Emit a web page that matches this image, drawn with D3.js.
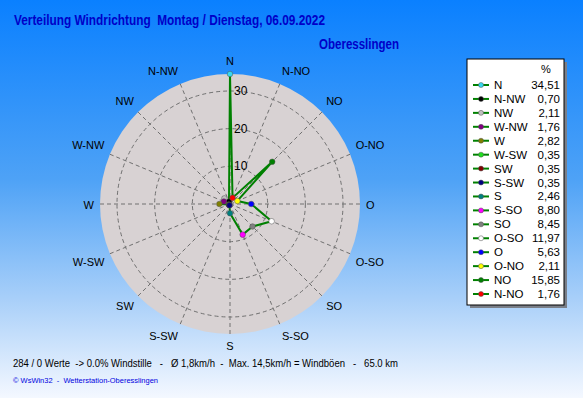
<!DOCTYPE html>
<html><head><meta charset="utf-8">
<script src="https://cdn.jsdelivr.net/npm/d3@7"></script>
<style>body{margin:0;padding:0;overflow:hidden}svg{display:block}text{font-family:"Liberation Sans",Arial,sans-serif;white-space:pre}</style>
</head><body><div id="chart"></div>
<script>
// ---- data (legend order, counter-clockwise from N) ----
const directions = ["N","N-NW","NW","W-NW","W","W-SW","SW","S-SW","S","S-SO","SO","O-SO","O","O-NO","NO","N-NO"];
const percents   = [34.51,0.70,2.11,1.76,2.82,0.35,0.35,0.35,2.46,8.80,8.45,11.97,5.63,2.11,15.85,1.76];
const markerColors = ["#38d8f0","#000000","#c0c0c0","#800080","#808000","#20e020","#800000","#000080","#008080","#ff00ff","#808080","#ffffff","#0000ff","#ffff00","#008000","#ff0000"];
const radialTicks = [10,20,30];
const title = "Verteilung Windrichtung  Montag / Dienstag, 06.09.2022";
const subtitle = "Oberesslingen";
const footer = "284 / 0 Werte  -> 0.0% Windstille   -   Ø 1,8km/h  -  Max. 14,5km/h = Windböen   -   65.0 km";
const credit = "© WsWin32  -  Wetterstation-Oberesslingen";

const W = 583, H = 398;
const svg = d3.select("#chart").append("svg").attr("width", W).attr("height", H);
const defs = svg.append("defs");
const bg = defs.append("linearGradient").attr("id","bg").attr("x1",0).attr("y1",0).attr("x2",0).attr("y2",1);
[[0,"#0a80ff"],[0.45,"#4ea2f6"],[0.75,"#a8cff9"],[1,"#f4f8ff"]].forEach(s=>bg.append("stop").attr("offset",s[0]).attr("stop-color",s[1]));
svg.append("rect").attr("width",W).attr("height",H).attr("fill","url(#bg)");

// titles
svg.append("text").attr("x",14).attr("y",25).attr("font-size",14).attr("font-weight","bold").attr("fill","#0000c8")
  .attr("textLength",311).attr("lengthAdjust","spacingAndGlyphs").text(title);
svg.append("text").attr("x",319).attr("y",49).attr("font-size",14).attr("font-weight","bold").attr("fill","#0000c8")
  .attr("textLength",80).attr("lengthAdjust","spacingAndGlyphs").text(subtitle);

// polar
const cx = 230, cy = 204, R = 130;
const r = d3.scaleLinear().domain([0, d3.max(percents)]).range([0, R]);
const ang = d3.scaleLinear().domain([0, directions.length]).range([0, -2*Math.PI]); // legend order is CCW
const g = svg.append("g").attr("transform",`translate(${cx},${cy})`);
g.append("circle").attr("r",R).attr("fill","#d8d2d3");
radialTicks.forEach(t=>g.append("circle").attr("r",r(t)).attr("fill","none").attr("stroke","#707070").attr("stroke-dasharray","4,3"));
directions.forEach((d,i)=>{
  const a = ang(i);
  g.append("line").attr("x1",0).attr("y1",0).attr("x2",R*Math.sin(a)).attr("y2",-R*Math.cos(a))
    .attr("stroke","#707070").attr("stroke-dasharray","4,3");
});
// direction labels
const rl = R + 6;
directions.forEach((d,i)=>{
  const a = ang(i), s = Math.sin(a), c = Math.cos(a);
  const px = rl*s, py = -rl*c;
  const anchor = s > 0.1 ? "start" : (s < -0.1 ? "end" : "middle");
  const base = c > 0.1 ? "text-after-edge" : (c < -0.1 ? "text-before-edge" : "central");
  let dy = c > 0.1 ? -1 : (c < -0.1 ? 0 : 1);
  g.append("text").attr("x",px).attr("y",py+dy).attr("text-anchor",anchor).attr("dominant-baseline",base)
    .attr("font-size",11).attr("fill","#000").text(d);
});
// tick labels
radialTicks.forEach(t=>g.append("text").attr("x",4).attr("y",-r(t)).attr("dominant-baseline","central")
  .attr("font-size",12).attr("fill","#000").text(t));

// series line
const pts = percents.map((v,i)=>[ang(i), r(v)]);
g.append("path").datum(pts).attr("d", d3.lineRadial().curve(d3.curveLinearClosed))
  .attr("fill","none").attr("stroke","#008000").attr("stroke-width",2).attr("stroke-linejoin","round");
g.selectAll(".pt").data(pts).join("circle").attr("class","pt")
  .attr("cx",d=>d[1]*Math.sin(d[0])).attr("cy",d=>-d[1]*Math.cos(d[0])).attr("r",2.8)
  .attr("fill",(d,i)=>markerColors[i]).attr("stroke","#505050").attr("stroke-width",0.5);

// legend
const lx = 467, ly = 59, lw = 97, lh = 246;
svg.append("rect").attr("x",lx+3).attr("y",ly+3).attr("width",lw).attr("height",lh).attr("fill","#7a7f88");
svg.append("rect").attr("x",lx).attr("y",ly).attr("width",lw).attr("height",lh).attr("fill","#fff").attr("stroke","#000");
svg.append("text").attr("x",546).attr("y",69).attr("text-anchor","middle").attr("dominant-baseline","central").attr("font-size",11).text("%");
const rowY = d3.scaleLinear().domain([0,15]).range([85,294]);
directions.forEach((d,i)=>{
  const y = rowY(i);
  svg.append("line").attr("x1",473).attr("x2",489).attr("y1",y).attr("y2",y).attr("stroke","#008000").attr("stroke-width",2);
  svg.append("circle").attr("cx",481).attr("cy",y).attr("r",2.5).attr("fill",markerColors[i]).attr("stroke","#505050").attr("stroke-width",0.5);
  svg.append("text").attr("x",494).attr("y",y).attr("dominant-baseline","central").attr("font-size",11.5).text(d);
  svg.append("text").attr("x",560).attr("y",y).attr("text-anchor","end").attr("dominant-baseline","central").attr("font-size",11.5)
    .text(d3.format(".2f")(percents[i]).replace(".",","));
});

// footer
svg.append("text").attr("x",13).attr("y",363).attr("dominant-baseline","central").attr("font-size",11)
  .attr("textLength",385).attr("lengthAdjust","spacingAndGlyphs").text(footer);
svg.append("text").attr("x",13).attr("y",380).attr("dominant-baseline","central").attr("font-size",8).attr("fill","#0000e0")
  .attr("textLength",145).attr("lengthAdjust","spacingAndGlyphs").text(credit);
</script></body></html>
